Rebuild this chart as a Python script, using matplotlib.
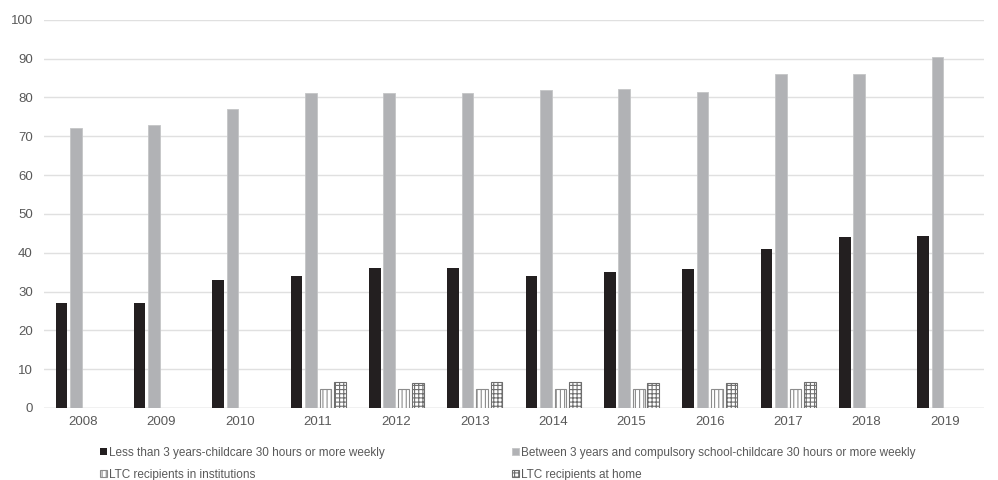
import numpy as np
from matplotlib import pyplot as plt

plt.rcParams['font.family'] = ['Liberation Sans', 'DejaVu Sans']
plt.rcParams['hatch.linewidth'] = 0.8

years = ["2008", "2009", "2010", "2011", "2012", "2013",
         "2014", "2015", "2016", "2017", "2018", "2019"]

# percentages per year, NaN where no data
under3 = [27, 27, 33, 34, 36, 36, 34, 35, 35.7, 41, 44, 44.3]
age3_school = [72, 73, 77, 81, 81, 81, 82, 82.1, 81.4, 86, 86, 90.4]
ltc_inst = [np.nan, np.nan, np.nan, 4.9, 4.9, 4.9, 4.9, 4.9, 4.8, 4.9, np.nan, np.nan]
ltc_home = [np.nan, np.nan, np.nan, 6.8, 6.4, 6.6, 6.7, 6.5, 6.5, 6.7, np.nan, np.nan]

labels = ["Less than 3 years-childcare 30 hours or more weekly",
          "Between 3 years and compulsory school-childcare 30 hours or more weekly",
          "LTC recipients in institutions",
          "LTC recipients at home"]

txt = "#595959"
fig = plt.figure(figsize=(9.98, 4.8), dpi=100)
ax = fig.add_axes([0.044, 0.15, 0.942, 0.809])

x = np.arange(len(years))
w = 0.148
step = 0.185
b1 = ax.bar(x - 1.5 * step, under3, w, color="#231f20", zorder=3)
b2 = ax.bar(x - 0.5 * step, age3_school, w, color="#b1b2b5", edgecolor="#c4c5c7",
            linewidth=0.6, zorder=3)
b3 = ax.bar(x + 0.5 * step, ltc_inst, w, color="white", edgecolor="#8c8c8c",
            hatch="||||", linewidth=0.8, zorder=3)
b4 = ax.bar(x + 1.5 * step, ltc_home, w, color="white", edgecolor="#6e6e6e",
            hatch="++++", linewidth=0.8, zorder=3)

ax.set_xlim(-0.5, len(years) - 0.5)
ax.set_ylim(0, 100)
ax.set_yticks(range(0, 101, 10))
ax.set_xticks(x)
ax.set_xticklabels(years)
ax.yaxis.grid(True, color="#e0e0e0", linewidth=1, zorder=0)
for s in ax.spines.values():
    s.set_visible(False)
ax.axhline(0, color="#d9d9d9", linewidth=1, zorder=2)
ax.tick_params(length=0, labelsize=9.5, colors=txt)
ax.tick_params(axis="x", pad=6)
ax.tick_params(axis="y", pad=8)

# legend filled row by row
handles = [b1, b3, b2, b4]
names = [labels[0], labels[2], labels[1], labels[3]]
ax.legend(handles, names, loc="upper left", bbox_to_anchor=(0.048, -0.072), ncol=2,
          frameon=False, fontsize=8.5, handlelength=0.6, handleheight=0.6,
          handletextpad=0.15, columnspacing=10.8, labelspacing=0.85,
          labelcolor=txt)

plt.savefig("out.png", dpi=100)
